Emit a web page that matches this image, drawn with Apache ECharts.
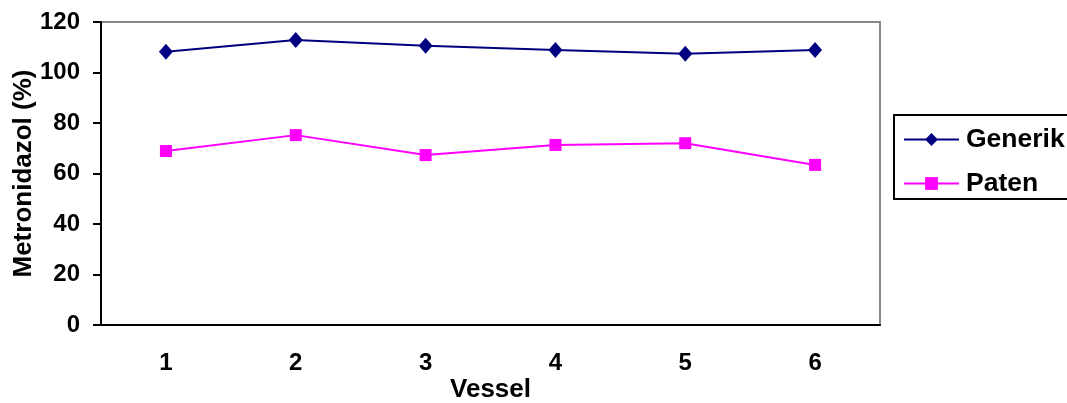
<!DOCTYPE html>
<html>
<head>
<meta charset="utf-8">
<script src="https://cdn.jsdelivr.net/npm/echarts@6/dist/echarts.min.js"></script>
<style>html,body{margin:0;padding:0;background:#fff}#c{width:1067px;height:403px}</style>
</head>
<body>
<div id="c"></div>
<script>
const categories = ['1', '2', '3', '4', '5', '6'];
const generik = [108.2, 112.9, 110.6, 108.9, 107.4, 108.9];
const paten = [68.9, 75.2, 67.3, 71.3, 72.0, 63.4];
const yTicks = { min: 0, max: 120, interval: 20 };

const FF = '"Liberation Sans", Arial, sans-serif';
const chart = echarts.init(document.getElementById('c'), null, { renderer: 'canvas' });
chart.setOption({
  animation: false,
  backgroundColor: '#fff',
  grid: { left: 101, right: 187, top: 22, bottom: 78, show: true, borderColor: '#888', borderWidth: 2, backgroundColor: '#fff', outerBoundsMode: 'none', containLabel: false },
  legend: {
    left: 894, top: 115, orient: 'vertical',
    data: ['Generik', 'Paten'],
    padding: [11, 10, 2, 9],
    itemGap: 17, itemWidth: 55, itemHeight: 16,
    borderColor: '#000', borderWidth: 2,
    textStyle: { fontFamily: FF, fontWeight: 'bold', fontSize: 26.5, color: '#000', padding: [0, 0, 0, 2] }
  },
  xAxis: {
    type: 'category', data: categories,
    name: 'Vessel', nameLocation: 'middle', nameGap: 52, nameMoveOverlap: false,
    nameTextStyle: { fontFamily: FF, fontWeight: 'bold', fontSize: 26, color: '#000' },
    axisLine: { lineStyle: { color: '#000', width: 2 } },
    axisTick: { length: 8, lineStyle: { color: '#000', width: 2 } },
    axisLabel: { fontFamily: FF, fontWeight: 'bold', fontSize: 24, color: '#000', margin: 26 }
  },
  yAxis: {
    type: 'value', min: yTicks.min, max: yTicks.max, interval: yTicks.interval,
    name: 'Metronidazol (%)', nameLocation: 'middle', nameGap: 64, nameRotate: 90, nameMoveOverlap: false,
    nameTextStyle: { fontFamily: FF, fontWeight: 'bold', fontSize: 26, color: '#000' },
    axisLine: { show: true, lineStyle: { color: '#000', width: 2 } },
    axisTick: { show: true, length: 8, lineStyle: { color: '#000', width: 2 } },
    splitLine: { show: false },
    axisLabel: { fontFamily: FF, fontWeight: 'bold', fontSize: 24, color: '#000', margin: 21 }
  },
  series: [
    { name: 'Generik', type: 'line', data: generik, symbol: 'diamond', symbolSize: [14, 16],
      itemStyle: { color: '#000080' }, lineStyle: { color: '#000080', width: 2 } },
    { name: 'Paten', type: 'line', data: paten, symbol: 'rect', symbolSize: 12,
      itemStyle: { color: '#FF00FF' }, lineStyle: { color: '#FF00FF', width: 2 } }
  ]
});
</script>
</body>
</html>
